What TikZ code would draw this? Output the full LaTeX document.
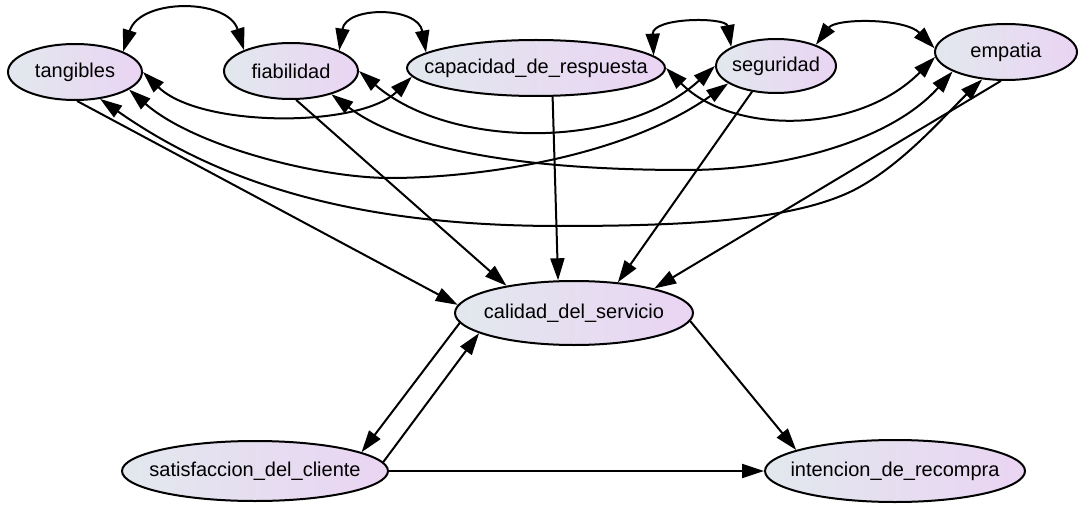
\documentclass[tikz,border=0pt]{standalone}
\usepackage{fontspec}
\setmainfont{Liberation Sans}
\usetikzlibrary{shapes.geometric,arrows.meta}
\definecolor{gleft}{RGB}{226,232,238}
\definecolor{gright}{RGB}{234,212,243}
\tikzset{
  ell/.style={ellipse, draw=black, line width=2pt, inner sep=0pt,
    left color=gleft, right color=gright,
    font=\fontsize{20}{24}\selectfont},
  con/.style={line width=2pt, -{Triangle[length=22pt,width=14pt]}},
  bicon/.style={line width=2pt, {Triangle[length=22pt,width=14pt]}-{Triangle[length=22pt,width=14pt]}}
}
\newcommand{\lbl}[1]{\makebox[0pt]{#1}}
\begin{document}
\begin{tikzpicture}[x=1pt,y=-1pt]
\path[fill=white,use as bounding box] (0,0) rectangle (1081,505);
% nodes
\node[ell, minimum width=134pt, minimum height=56pt] (tang) at (75,72) {\lbl{tangibles}};
\node[ell, minimum width=134pt, minimum height=56pt] (fiab) at (291,71) {\lbl{fiabilidad}};
\node[ell, minimum width=258pt, minimum height=56pt] (cap) at (536,68) {\lbl{capacidad\_de\_respuesta}};
\node[ell, minimum width=120pt, minimum height=54pt] (seg) at (776,66) {\lbl{seguridad}};
\node[ell, minimum width=142pt, minimum height=56pt] (emp) at (1006,52) {\lbl{empatia}};
\node[ell, minimum width=238pt, minimum height=64pt] (cal) at (574,313) {\lbl{calidad\_del\_servicio}};
\node[ell, minimum width=266pt, minimum height=60pt] (sat) at (255,471) {\lbl{satisfaccion\_del\_cliente}};
\node[ell, minimum width=260pt, minimum height=62pt] (int) at (895,471) {\lbl{intencion\_de\_recompra}};
% top arcs
\draw[bicon] (tang.23) .. controls (140,-2) and (228,-2) .. (fiab.156);
\draw[bicon] (fiab.23) .. controls (346,6) and (418,6) .. (cap.172);
\draw[bicon] (cap.6.5) .. controls (652,17) and (726,17) .. (seg.157);
\draw[bicon] (seg.28) .. controls (836,18) and (905,18) .. (emp.177);
% lower covariance curves
\draw[bicon] (tang.0) .. controls (200,128) and (360,128) .. (cap.184);
\draw[bicon] (fiab.0) .. controls (451,150) and (623,150) .. (seg.180);
\draw[bicon] (cap.0) .. controls (732,135) and (858,135) .. (emp.184);
\draw[bicon] (tang.-18) .. controls (195,147) and (320,178) .. (390,178)
   .. controls (470,178) and (620,160) .. (seg.200);
\draw[bicon] (fiab.-30) .. controls (425,165) and (600,170) .. (687,170)
   .. controls (780,170) and (890,142) .. (emp.200);
\draw[bicon] (tang.-47) .. controls (230,190) and (370,226) .. (560,226)
   .. controls (690,226) and (790,220) .. (850,192)
   .. controls (900,168) and (945,115) .. (emp.-131);
% straight paths
\draw[con] (tang.-86) -- (cal.176);
\draw[con] (fiab.-80) -- (cal.158);
\draw[con] (cap.-60) -- (cal.116);
\draw[con] (seg.227) -- (cal.35);
\draw[con] (emp.-100) -- (cal.17);
\draw[con] (cal.185) -- (sat.10);
\draw[con] (sat.4) -- (cal.192);
\draw[con] (sat.0) -- (int.180);
\draw[con] (cal.-4) -- (int.168);
\end{tikzpicture}
\end{document}
